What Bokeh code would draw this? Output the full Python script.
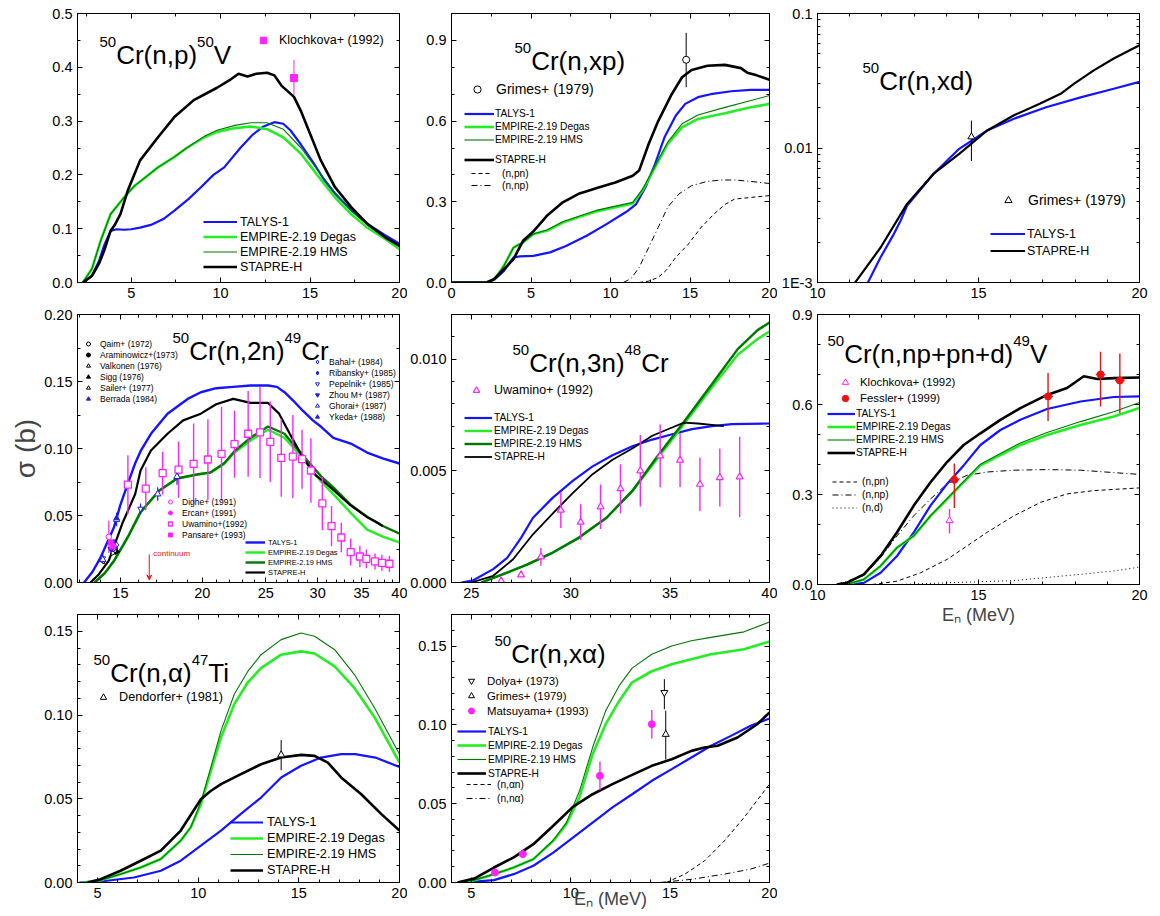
import math
from bokeh.plotting import figure
from bokeh.layouts import row, column
from bokeh.models import (Range1d, FixedTicker, LinearAxis, LogAxis, Legend, LegendItem,
                          PrintfTickFormatter, CustomJSTickFormatter, Arrow, VeeHead, Label,
                          CustomLabelingPolicy)
from bokeh.core.properties import value
from bokeh.embed import file_html
from bokeh.resources import INLINE

FONT = "Liberation Sans"
C_TALYS = "#1414ff"
C_DEGAS = "#22ee22"
C_HMS = "#007800"
C_STAPRE = "#000000"
C_MAG = "#ff22ff"
C_RED = "#ee1111"
C_EXPB = "#2020e0"

# ---------------- Panel 1: 50Cr(n,p)50V ----------------
p1_talys_e = [2.3, 2.8, 3.2, 3.5, 3.85, 4.2, 4.6, 5.0, 5.5, 6.1, 6.8, 7.4, 8.2, 8.9, 9.6, 10.2, 11.1, 11.8, 12.4, 13.0, 13.5, 13.9, 14.5, 15.2, 15.8, 16.4, 17.3, 18.2, 19.2, 20.0]
p1_talys_s = [0.0, 0.012, 0.04, 0.07, 0.096, 0.099, 0.098, 0.099, 0.102, 0.107, 0.118, 0.133, 0.155, 0.177, 0.2, 0.214, 0.25, 0.275, 0.29, 0.298, 0.295, 0.283, 0.256, 0.222, 0.19, 0.165, 0.135, 0.109, 0.088, 0.072]
p1_stapre_e = [2.3, 2.8, 3.2, 3.5, 3.85, 4.1, 4.4, 4.8, 5.5, 6.5, 7.4, 8.5, 9.8, 10.5, 11.0, 11.5, 12.0, 12.6, 13.0, 13.4, 14.1, 14.5, 14.9, 15.6, 16.4, 17.3, 18.2, 19.2, 20.0]
p1_stapre_s = [0.0, 0.012, 0.035, 0.06, 0.096, 0.108, 0.127, 0.17, 0.227, 0.27, 0.307, 0.339, 0.362, 0.376, 0.388, 0.383, 0.388, 0.39, 0.385, 0.366, 0.345, 0.318, 0.285, 0.227, 0.177, 0.14, 0.109, 0.084, 0.068]
p1_emp_e = [2.3, 2.8, 3.3, 3.85, 4.6, 5.2, 5.7, 6.5, 7.4, 8.1, 9.1, 9.8, 10.8, 11.7, 12.6, 13.5, 14.5, 15.4, 16.4, 17.3, 18.2, 19.2, 20.0]
p1_degas_s = [0.0, 0.025, 0.078, 0.127, 0.158, 0.18, 0.193, 0.214, 0.233, 0.25, 0.27, 0.28, 0.287, 0.29, 0.285, 0.27, 0.239, 0.2, 0.158, 0.127, 0.102, 0.081, 0.062]
p1_hms_s = [0.0, 0.025, 0.078, 0.127, 0.158, 0.18, 0.193, 0.214, 0.233, 0.25, 0.272, 0.283, 0.292, 0.297, 0.297, 0.285, 0.25, 0.21, 0.167, 0.133, 0.107, 0.085, 0.067]
p1_kloch_e = [14.1]
p1_kloch_s = [0.38]
p1_kloch_lo = [0.348]
p1_kloch_hi = [0.414]

# ---------------- Panel 2: 50Cr(n,xp) ----------------
p2_stapre_e = [0, 2.2, 2.67, 3.3, 3.9, 4.5, 5.15, 6.0, 7.0, 8.05, 9.3, 10.3, 11.4, 11.8, 12.4, 13.0, 13.85, 14.5, 15.1, 16.1, 17.2, 18.2, 18.6, 19.2, 20]
p2_stapre_s = [0, 0, 0.012, 0.05, 0.087, 0.155, 0.19, 0.248, 0.298, 0.331, 0.354, 0.372, 0.397, 0.416, 0.515, 0.60, 0.70, 0.763, 0.79, 0.806, 0.809, 0.797, 0.78, 0.77, 0.754]
p2_talys_e = [0, 2.2, 2.7, 3.3, 3.9, 4.3, 5.15, 6.2, 7.2, 8.5, 9.7, 11.0, 11.6, 12.2, 12.8, 13.4, 14.1, 14.7, 15.5, 16.3, 17.6, 18.8, 20]
p2_talys_s = [0, 0, 0.01, 0.043, 0.093, 0.097, 0.099, 0.112, 0.136, 0.174, 0.215, 0.263, 0.29, 0.354, 0.44, 0.54, 0.62, 0.664, 0.689, 0.70, 0.711, 0.716, 0.716]
p2_emp_e = [0, 2.2, 2.7, 3.3, 3.9, 4.5, 5.15, 6.0, 7.0, 8.05, 9.1, 10.1, 11.4, 12.0, 12.8, 13.6, 14.5, 15.5, 17.2, 18.6, 20]
p2_degas_s = [0, 0, 0.012, 0.062, 0.13, 0.149, 0.18, 0.192, 0.223, 0.244, 0.264, 0.277, 0.294, 0.341, 0.428, 0.515, 0.577, 0.608, 0.629, 0.649, 0.664]
p2_hms_s = [0, 0, 0.012, 0.062, 0.13, 0.149, 0.18, 0.195, 0.226, 0.247, 0.268, 0.281, 0.298, 0.345, 0.433, 0.522, 0.59, 0.623, 0.651, 0.673, 0.695]
p2_npn_e = [11.8, 12.4, 13.0, 13.5, 14.1, 14.9, 15.7, 16.5, 17.2, 17.8, 18.8, 20]
p2_npn_s = [0, 0.005, 0.019, 0.045, 0.093, 0.143, 0.205, 0.254, 0.29, 0.31, 0.316, 0.323]
p2_nnp_e = [10.8, 11.3, 11.8, 12.4, 13.0, 13.6, 14.3, 15.1, 16.1, 17.0, 17.8, 18.8, 20]
p2_nnp_s = [0, 0.015, 0.056, 0.13, 0.205, 0.28, 0.329, 0.36, 0.376, 0.381, 0.381, 0.376, 0.368]
p2_grimes_e = [14.76]
p2_grimes_s = [0.828]
p2_grimes_lo = [0.726]
p2_grimes_hi = [0.928]

# ---------------- Panel 3: 50Cr(n,xd) ----------------
p3_stapre_e = [11.0, 11.96, 12.78, 13.6, 14.4, 15.27, 16.1, 16.9, 17.55, 17.96, 18.58, 19.2, 20]
p3_stapre_s = [0.00088, 0.00182, 0.00384, 0.00641, 0.00905, 0.0135, 0.0175, 0.0213, 0.0253, 0.030, 0.0378, 0.0463, 0.058]
p3_talys_e = [11.5, 11.96, 12.37, 12.58, 12.78, 13.6, 14.4, 15.27, 16.1, 17.1, 18.2, 19.2, 20]
p3_talys_s = [0.00093, 0.00154, 0.00229, 0.00288, 0.00372, 0.0064, 0.00986, 0.0135, 0.0165, 0.0201, 0.0239, 0.0276, 0.031]
p3_grimes_e = [14.78]
p3_grimes_s = [0.0121]
p3_grimes_lo = [0.008]
p3_grimes_hi = [0.016]

# ---------------- Panel 4: 50Cr(n,2n)49Cr ----------------
p4_talys_e = [13.2, 13.6, 14.0, 14.66, 15.0, 15.4, 15.8, 16.1, 16.7, 17.7, 19.0, 19.9, 21.0, 22.3, 23.7, 25.2, 26.0, 26.7, 27.5, 28.5, 29.5, 30.4, 31.7, 33.7, 35.7, 37.8, 40]
p4_talys_s = [0.0, 0.008, 0.019, 0.041, 0.058, 0.074, 0.089, 0.098, 0.111, 0.126, 0.137, 0.142, 0.145, 0.146, 0.147, 0.147, 0.146, 0.142, 0.136, 0.128, 0.121, 0.116, 0.108, 0.1037, 0.097, 0.0925, 0.0888]
p4_stapre_e = [13.5, 13.9, 14.4, 15.1, 15.8, 16.1, 16.7, 17.7, 18.7, 19.9, 21.0, 22.3, 23.7, 25.2, 26.2, 27.2, 28.5, 29.8, 30.7, 31.7, 33.7, 35.7, 37.2, 37.7]
p4_stapre_s = [0.0, 0.006, 0.0164, 0.044, 0.066, 0.0836, 0.0985, 0.111, 0.121, 0.126, 0.133, 0.137, 0.134, 0.134, 0.126, 0.111, 0.093, 0.080, 0.075, 0.069, 0.0575, 0.0488, 0.044, 0.042]
p4_emp_e = [13.7, 14.2, 14.66, 15.4, 16.1, 17.2, 18.3, 19.7, 20.6, 21.6, 22.4, 23.7, 25.2, 26.7, 28.5, 30.4, 31.7, 33.7, 35.7, 37.8, 40]
p4_degas_s = [0.0, 0.007, 0.016, 0.034, 0.0525, 0.0687, 0.0776, 0.0805, 0.082, 0.0885, 0.097, 0.106, 0.114, 0.108, 0.0925, 0.075, 0.066, 0.052, 0.0394, 0.034, 0.030]
p4_hms_s = [0.0, 0.007, 0.016, 0.034, 0.0525, 0.0687, 0.0776, 0.0808, 0.0822, 0.089, 0.098, 0.108, 0.1164, 0.111, 0.0945, 0.079, 0.071, 0.058, 0.049, 0.042, 0.0365]
uwa2_e = [15.4, 16.4, 17.4, 18.4, 19.4, 20.4, 21.4, 22.4, 23.5, 24.5, 25.4, 26.4, 27.5, 28.4, 29.3, 30.5, 31.5, 32.6, 33.7, 34.8, 35.6, 36.7, 37.6, 38.6]
uwa2_s = [0.073, 0.070, 0.0816, 0.0843, 0.0886, 0.0918, 0.096, 0.1032, 0.111, 0.112, 0.105, 0.093, 0.094, 0.092, 0.0836, 0.059, 0.042, 0.0336, 0.0226, 0.0194, 0.0177, 0.0157, 0.0147, 0.014]
uwa2_err = [0.022, 0.016, 0.016, 0.021, 0.03, 0.03, 0.035, 0.025, 0.032, 0.034, 0.03, 0.029, 0.031, 0.022, 0.024, 0.02, 0.015, 0.011, 0.01, 0.008, 0.007, 0.006, 0.006, 0.006]
qaim_e, qaim_s = [14.7], [0.026]
aram_e, aram_s = [14.7], [0.024]
valk_e, valk_s = [14.6], [0.022]
sigg_e, sigg_s = [14.8], [0.023]
sail_e, sail_s = [14.1, 14.7], [0.016, 0.024]
berr_e, berr_s = [14.6], [0.030]
bahal_e, bahal_s = [14.8], [0.028]
riban_e, riban_s = [14.6], [0.026]
pepel_e, pepel_s = [14.1, 14.7, 16.1], [0.018, 0.026, 0.055]
pepel_err = [0.003, 0.004, 0.004]
zhou_e, zhou_s = [14.5], [0.025]
ghorai_e, ghorai_s = [14.1, 14.8, 17.1, 18.3], [0.017, 0.047, 0.066, 0.079]
ghorai_err = [0.003, 0.005, 0.005, 0.006]
ykeda_e, ykeda_s = [14.8], [0.048]
dighe_e, dighe_s = [14.4], [0.034]
dighe_err = [0.012]
ercan_e, ercan_s = [14.5], [0.030]
pans_e, pans_s = [14.6], [0.027]
pans_err = [0.005]
continuum_e = 16.6

# ---------------- Panel 5: 50Cr(n,3n)48Cr ----------------
p5_talys_e = [24.5, 25.1, 26.1, 26.8, 27.5, 28.1, 29.1, 30.1, 31.1, 32.1, 33.1, 34.1, 35.1, 36.1, 37.1, 38.1, 40]
p5_talys_s = [0, 0.0001, 0.0006, 0.0011, 0.002, 0.0029, 0.0038, 0.00455, 0.0052, 0.0057, 0.0061, 0.0064, 0.00664, 0.00687, 0.0070, 0.00709, 0.00712]
p5_stapre_e = [25.0, 26.1, 27.1, 28.1, 29.1, 30.1, 31.1, 32.1, 33.1, 34.1, 35.1, 35.7, 36.4, 37.1, 37.7]
p5_stapre_s = [0, 0.0003, 0.00104, 0.00216, 0.0031, 0.004, 0.00485, 0.0055, 0.006, 0.00657, 0.00694, 0.00716, 0.00712, 0.00706, 0.0070]
p5_emp_e = [25.5, 26.6, 27.8, 29.1, 30.4, 31.8, 33.1, 34.4, 35.7, 37.1, 38.4, 39.4, 40]
p5_degas_s = [0, 0.00037, 0.0008, 0.00134, 0.002, 0.0029, 0.0041, 0.0056, 0.0071, 0.00873, 0.0102, 0.0109, 0.01124]
p5_hms_s = [0, 0.00037, 0.0008, 0.00134, 0.002, 0.0029, 0.0041, 0.0057, 0.0072, 0.00888, 0.01045, 0.0113, 0.01164]
uwa3_e = [26.5, 27.5, 28.5, 29.5, 30.5, 31.5, 32.5, 33.5, 34.5, 35.5, 36.5, 37.5, 38.5]
uwa3_s = [0.00007, 0.00034, 0.00115, 0.00324, 0.0027, 0.00339, 0.0042, 0.005, 0.00567, 0.00548, 0.0044, 0.0047, 0.00473]
uwa3_err = [0, 0, 0.0004, 0.0008, 0.0008, 0.001, 0.0011, 0.0016, 0.0014, 0.0012, 0.0012, 0.0013, 0.0018]

# ---------------- Panel 6: 50Cr(n,np+pn+d)49V ----------------
p6_stapre_e = [10.6, 10.92, 11.44, 11.96, 12.47, 12.99, 13.51, 14.03, 14.54, 15.06, 15.68, 16.3, 17.13, 17.75, 18.27, 18.69, 19.2, 20]
p6_stapre_s = [0, 0.006, 0.034, 0.095, 0.174, 0.263, 0.341, 0.409, 0.465, 0.504, 0.549, 0.588, 0.632, 0.655, 0.694, 0.685, 0.688, 0.69]
p6_talys_e = [11.0, 11.44, 11.96, 12.47, 12.99, 13.51, 14.03, 14.54, 15.06, 15.68, 16.3, 17.13, 18.17, 19.2, 20]
p6_talys_s = [0, 0.0056, 0.039, 0.095, 0.174, 0.263, 0.336, 0.397, 0.465, 0.515, 0.549, 0.585, 0.61, 0.625, 0.627]
p6_emp_e = [10.9, 11.44, 11.96, 12.47, 12.99, 13.51, 14.03, 14.54, 15.06, 15.68, 16.3, 17.13, 18.17, 19.2, 20]
p6_degas_s = [0, 0.017, 0.062, 0.123, 0.162, 0.229, 0.285, 0.341, 0.397, 0.431, 0.465, 0.498, 0.532, 0.56, 0.588]
p6_hms_s = [0, 0.017, 0.062, 0.123, 0.162, 0.229, 0.287, 0.344, 0.401, 0.437, 0.472, 0.507, 0.543, 0.576, 0.607]
p6_nnp_e = [10.6, 11.44, 11.96, 12.47, 12.99, 13.51, 14.03, 14.65, 15.27, 16.1, 17.13, 18.17, 19.2, 20]
p6_nnp_s = [0, 0.03, 0.09, 0.162, 0.229, 0.285, 0.336, 0.364, 0.375, 0.381, 0.383, 0.381, 0.373, 0.367]
p6_npn_e = [11.7, 12.47, 13.2, 14.03, 14.65, 15.27, 16.1, 16.93, 17.75, 18.58, 20]
p6_npn_s = [0, 0.011, 0.039, 0.084, 0.129, 0.174, 0.229, 0.274, 0.302, 0.313, 0.322]
p6_nd_e = [12.5, 14.03, 16.1, 18.17, 19.2, 20]
p6_nd_s = [0, 0.0056, 0.013, 0.034, 0.045, 0.058]
p6_kloch_e, p6_kloch_s, p6_kloch_lo, p6_kloch_hi = [14.1], [0.213], [0.17], [0.252]
fess_e = [14.25, 17.16, 18.79, 19.39]
fess_s = [0.349, 0.627, 0.70, 0.68]
fess_lo = [0.255, 0.545, 0.593, 0.571]
fess_hi = [0.403, 0.705, 0.776, 0.77]
fess_de = [0.15, 0.15, 0.15, 0.15]

# ---------------- Panel 7: 50Cr(n,a)47Ti ----------------
p7_talys_e = [4.1, 5.15, 6.8, 8.14, 9.13, 10.13, 11.13, 12.12, 13.12, 14.12, 15.11, 16.1, 17.1, 17.8, 18.8, 20]
p7_talys_s = [0, 0.0006, 0.003, 0.007, 0.013, 0.022, 0.031, 0.041, 0.0507, 0.0627, 0.0697, 0.0746, 0.0766, 0.0766, 0.0746, 0.069]
p7_stapre_e = [4.5, 5.15, 6.14, 7.14, 8.14, 9.13, 10.13, 10.6, 11.13, 12.12, 13.12, 14.12, 15.11, 15.78, 16.44, 17.1, 18.1, 19.1, 20]
p7_stapre_s = [0, 0.002, 0.007, 0.013, 0.019, 0.031, 0.0497, 0.0545, 0.0587, 0.0647, 0.0706, 0.0746, 0.0762, 0.0756, 0.0716, 0.0627, 0.0527, 0.0408, 0.031]
p7_emp_e = [4.3, 5.15, 6.14, 7.14, 8.14, 9.13, 9.63, 10.13, 10.63, 11.13, 11.79, 12.46, 13.12, 14.12, 15.11, 15.78, 16.78, 17.77, 18.77, 20]
p7_degas_s = [0, 0.0014, 0.005, 0.009, 0.014, 0.025, 0.033, 0.0468, 0.0667, 0.0866, 0.1065, 0.1194, 0.128, 0.136, 0.138, 0.1367, 0.129, 0.116, 0.0985, 0.0716]
p7_hms_s = [0, 0.0014, 0.005, 0.009, 0.014, 0.025, 0.033, 0.048, 0.069, 0.0905, 0.1124, 0.126, 0.136, 0.145, 0.149, 0.147, 0.139, 0.124, 0.104, 0.0766]
dend_e, dend_s, dend_lo, dend_hi = [14.12], [0.0762], [0.067], [0.085]

# ---------------- Panel 8: 50Cr(n,xa) ----------------
p8_talys_e = [4.3, 5.14, 6.14, 7.13, 8.12, 9.12, 10.11, 11.1, 12.1, 13.09, 14.08, 15.08, 16.07, 17.06, 18.06, 19.05, 20]
p8_talys_s = [0, 0.0005, 0.0015, 0.0053, 0.0106, 0.019, 0.0285, 0.038, 0.0476, 0.056, 0.0645, 0.0719, 0.0793, 0.0867, 0.093, 0.0994, 0.104]
p8_stapre_e = [4.3, 5.14, 6.14, 7.13, 8.12, 9.12, 10.11, 11.1, 12.1, 13.09, 14.08, 15.08, 16.07, 16.73, 17.39, 18.39, 19.38, 20]
p8_stapre_s = [0, 0.0025, 0.0095, 0.0159, 0.0243, 0.036, 0.048, 0.056, 0.0624, 0.0683, 0.074, 0.0782, 0.0835, 0.0856, 0.0867, 0.092, 0.1004, 0.1078]
p8_emp_e = [4.3, 5.14, 6.14, 7.13, 8.12, 9.12, 9.78, 10.44, 11.1, 11.76, 12.43, 13.09, 14.08, 15.08, 16.07, 17.06, 18.72, 20]
p8_degas_s = [0, 0.0015, 0.0053, 0.0095, 0.0148, 0.0264, 0.037, 0.054, 0.0814, 0.1004, 0.115, 0.127, 0.134, 0.1385, 0.1416, 0.1448, 0.148, 0.1529]
p8_hms_s = [0, 0.0015, 0.0053, 0.0095, 0.0148, 0.0268, 0.038, 0.058, 0.0856, 0.109, 0.1247, 0.136, 0.1448, 0.150, 0.1533, 0.1555, 0.159, 0.1653]
p8_nan_e = [14.8, 15.74, 16.73, 17.73, 18.72, 20]
p8_nan_s = [0, 0.0053, 0.0137, 0.0264, 0.0412, 0.0624]
p8_nna_e = [14.5, 16.07, 17.73, 19.05, 20]
p8_nna_s = [0, 0.002, 0.0053, 0.0085, 0.0123]
mats_e = [6.19, 7.59, 11.47, 14.08]
mats_s = [0.0063, 0.018, 0.0677, 0.1004]
mats_err = [0.001, 0.0015, 0.009, 0.009]
dolya_e, dolya_s, dolya_lo, dolya_hi = [14.71], [0.1205], [0.11], [0.129]
grim8_e, grim8_s, grim8_lo, grim8_hi = [14.78], [0.094], [0.078], [0.109]

# ---------------- helpers ----------------
AW = {'0': .556, '1': .556, '2': .556, '3': .556, '4': .556, '5': .556, '6': .556, '7': .556, '8': .556, '9': .556,
      '(': .333, ')': .333, ',': .278, 'C': .722, 'r': .333, 'n': .556, 'p': .556, 'x': .5, 'd': .556,
      'V': .667, '+': .584, 'T': .611, 'i': .222, 'α': .578}


def tw(s, size):
    return sum(AW.get(c, 0.556) for c in s) * size


NO_LABELS = "for (const i of indices) { indices.unset(i) }\nreturn indices"


def style_axis(ax, ticker, fmt, labels):
    ax.ticker = ticker
    ax.major_tick_in = 5
    ax.major_tick_out = 0
    ax.minor_tick_in = 3
    ax.minor_tick_out = 0
    ax.axis_line_color = "black"
    ax.major_tick_line_color = "black"
    ax.minor_tick_line_color = "black"
    if labels:
        ax.formatter = fmt
        ax.major_label_text_font = FONT
        ax.major_label_text_font_size = "14.5px"
        ax.major_label_text_color = "black"
        ax.major_label_standoff = 5
    else:
        ax.major_label_policy = CustomLabelingPolicy(code=NO_LABELS)
        ax.major_label_text_font_size = "1px"
        ax.major_label_standoff = 0


def make_panel(xr, yr, w, h, bl, br, bt, bb, xt, xm, yt, ym, xfmt, yfmt, x_log=False, y_log=False):
    p = figure(width=w, height=h, x_range=Range1d(*xr), y_range=Range1d(*yr),
               x_axis_type="log" if x_log else "linear", y_axis_type="log" if y_log else "linear",
               output_backend="svg", toolbar_location=None,
               min_border_left=bl, min_border_right=br, min_border_top=bt, min_border_bottom=bb)
    p.xgrid.visible = False
    p.ygrid.visible = False
    p.outline_line_color = "black"
    p.outline_line_width = 1
    p.outline_line_alpha = 1
    p.background_fill_color = "white"
    p.border_fill_color = "white"
    bx = p.below[0]
    ly = p.left[0]
    top = LogAxis() if x_log else LinearAxis()
    right = LogAxis() if y_log else LinearAxis()
    p.add_layout(top, "above")
    p.add_layout(right, "right")
    style_axis(bx, FixedTicker(ticks=xt, minor_ticks=xm), xfmt, True)
    style_axis(ly, FixedTicker(ticks=yt, minor_ticks=ym), yfmt, True)
    style_axis(top, FixedTicker(ticks=xt, minor_ticks=xm), None, False)
    style_axis(right, FixedTicker(ticks=yt, minor_ticks=ym), None, False)
    return p


def add_title(p, parts, dx, dy):
    x0 = p.x_range.start
    y0 = p.y_range.end
    cx = dx
    for txt, sup in parts:
        size = 15 if sup else 26
        p.text(x=[x0], y=[y0], text=[txt], x_offset=cx, y_offset=dy - (13 if sup else 0),
               text_font=value(FONT), text_font_size=f"{size}px", text_baseline="alphabetic",
               text_align="left", text_color="black")
        cx += tw(txt, size)


def add_legend(p, entries, loc, size, gw, gh, standoff):
    items = [LegendItem(label=lab, renderers=[r]) for lab, r in entries]
    lg = Legend(items=items, location=loc, orientation="vertical",
                label_text_font=FONT, label_text_font_size=f"{size}px", label_text_color="black",
                glyph_width=gw, glyph_height=gh, label_height=gh, spacing=0, padding=0, margin=0,
                label_standoff=standoff, background_fill_alpha=0, border_line_alpha=0)
    p.add_layout(lg)


def rng(a, b, s):
    out = []
    v = a
    while v <= b + 1e-9:
        out.append(round(v, 6))
        v += s
    return out


def errbar(p, e, lo, hi, color, w=1):
    p.segment(x0=e, y0=lo, x1=e, y1=hi, line_color=color, line_width=w)


def sym(vals, errs, sign):
    return [v + sign * d for v, d in zip(vals, errs)]


F1 = PrintfTickFormatter(format="%d")

# ======== Panel 1 ========
p1 = make_panel((2, 20), (0, 0.5), 407, 306, 77, 8, 13, 24,
                [5, 10, 15, 20], [2.5, 7.5, 12.5, 17.5], rng(0, 0.5, 0.1), rng(0.05, 0.45, 0.1),
                F1, PrintfTickFormatter(format="%.1f"))
r1t = p1.line(p1_talys_e, p1_talys_s, line_color=C_TALYS, line_width=2.2)
r1d = p1.line(p1_emp_e, p1_degas_s, line_color=C_DEGAS, line_width=2.6)
r1h = p1.line(p1_emp_e, p1_hms_s, line_color=C_HMS, line_width=1.1)
r1s = p1.line(p1_stapre_e, p1_stapre_s, line_color=C_STAPRE, line_width=2.6)
errbar(p1, p1_kloch_e, p1_kloch_lo, p1_kloch_hi, C_MAG)
r1k = p1.scatter(p1_kloch_e, p1_kloch_s, marker="square", size=7, fill_color=C_MAG, line_color=C_MAG)
add_title(p1, [("50", 1), ("Cr(n,p)", 0), ("50", 1), ("V", 0)], 22, 41)
add_legend(p1, [("Klochkova+ (1992)", r1k)], (175, 234), 12.5, 22, 16, 5)
add_legend(p1, [("TALYS-1", r1t), ("EMPIRE-2.19 Degas", r1d), ("EMPIRE-2.19 HMS", r1h), ("STAPRE-H", r1s)],
           (126, 8), 12.5, 34, 15, 3)

# ======== Panel 2 ========
p2 = make_panel((0, 20), (0, 1.0), 370, 306, 40, 8, 13, 24,
                [0, 5, 10, 15, 20], [2.5, 7.5, 12.5, 17.5], [0, 0.3, 0.6, 0.9], [0.1, 0.2, 0.4, 0.5, 0.7, 0.8, 1.0],
                F1, PrintfTickFormatter(format="%.1f"))
r2pn = p2.line(p2_npn_e, p2_npn_s, line_color="black", line_width=1, line_dash="4 3")
r2np = p2.line(p2_nnp_e, p2_nnp_s, line_color="black", line_width=1, line_dash="6 3 1 3")
r2t = p2.line(p2_talys_e, p2_talys_s, line_color=C_TALYS, line_width=2.2)
r2d = p2.line(p2_emp_e, p2_degas_s, line_color=C_DEGAS, line_width=2.6)
r2h = p2.line(p2_emp_e, p2_hms_s, line_color=C_HMS, line_width=1.1)
r2s = p2.line(p2_stapre_e, p2_stapre_s, line_color=C_STAPRE, line_width=2.6)
errbar(p2, p2_grimes_e, p2_grimes_lo, p2_grimes_hi, "black")
r2g = p2.scatter(p2_grimes_e, p2_grimes_s, marker="circle", size=7, fill_color="white", line_color="black")
add_title(p2, [("50", 1), ("Cr(n,xp)", 0)], 63, 47)
add_legend(p2, [("Grimes+ (1979)", r2g)], (16, 184), 14, 20, 18, 9)
add_legend(p2, [("TALYS-1", r2t), ("EMPIRE-2.19 Degas", r2d), ("EMPIRE-2.19 HMS", r2h)], (13, 136), 10.2, 30, 13, 1)
add_legend(p2, [("STAPRE-H", r2s)], (13, 116), 10.2, 30, 13, 1)
add_legend(p2, [("(n,pn)", r2pn), ("(n,np)", r2np)], (20, 91), 10.2, 21, 12, 10)

# ======== Panel 3 ========
p3 = make_panel((10, 20), (0.001, 0.1), 380, 306, 40, 18, 13, 24,
                [10, 15, 20], [11, 12, 13, 14, 16, 17, 18, 19], [0.001, 0.01, 0.1],
                [k * 0.001 for k in range(2, 10)] + [k * 0.01 for k in range(2, 10)],
                F1, CustomJSTickFormatter(code="return tick < 0.002 ? '1E-3' : String(tick);"), y_log=True)
r3t = p3.line(p3_talys_e, p3_talys_s, line_color=C_TALYS, line_width=2.2)
r3s = p3.line(p3_stapre_e, p3_stapre_s, line_color=C_STAPRE, line_width=2.2)
errbar(p3, p3_grimes_e, p3_grimes_lo, p3_grimes_hi, "black")
r3g = p3.scatter(p3_grimes_e, p3_grimes_s, marker="triangle", size=7, fill_color="white", line_color="black")
add_title(p3, [("50", 1), ("Cr(n,xd)", 0)], 45, 67)
add_legend(p3, [("Grimes+ (1979)", r3g)], (181, 73), 14, 20, 18, 10)
add_legend(p3, [("TALYS-1", r3t), ("STAPRE-H", r3s)], (173, 23), 12.5, 35, 17, 2)

# ======== Panel 4 ========
p4 = make_panel((12.9, 40), (0, 0.20), 407, 300, 77, 8, 8, 24,
                [15, 20, 25, 30, 35, 40], [13, 14] + list(range(16, 20)) + list(range(21, 25)) + list(range(26, 30)) + list(range(31, 35)) + list(range(36, 40)),
                [0, 0.05, 0.10, 0.15, 0.20], [0.025, 0.075, 0.125, 0.175],
                F1, PrintfTickFormatter(format="%.2f"), x_log=True)
p4.left[0].axis_label = "σ (b)"
p4.left[0].axis_label_text_font = FONT
p4.left[0].axis_label_text_font_size = "28px"
p4.left[0].axis_label_text_font_style = "normal"
p4.left[0].axis_label_standoff = 0
r4t = p4.line(p4_talys_e, p4_talys_s, line_color=C_TALYS, line_width=2.4)
r4d = p4.line(p4_emp_e, p4_degas_s, line_color=C_DEGAS, line_width=2.4)
r4h = p4.line(p4_emp_e, p4_hms_s, line_color=C_HMS, line_width=2.4)
r4s = p4.line(p4_stapre_e, p4_stapre_s, line_color=C_STAPRE, line_width=2.2)
errbar(p4, uwa2_e, sym(uwa2_s, uwa2_err, -1), sym(uwa2_s, uwa2_err, 1), C_MAG, 1.4)
errbar(p4, dighe_e, sym(dighe_s, dighe_err, -1), sym(dighe_s, dighe_err, 1), C_MAG, 1.2)
errbar(p4, pans_e, sym(pans_s, pans_err, -1), sym(pans_s, pans_err, 1), C_MAG, 1.2)
errbar(p4, ghorai_e, sym(ghorai_s, ghorai_err, -1), sym(ghorai_s, ghorai_err, 1), C_EXPB, 1.2)
errbar(p4, pepel_e, sym(pepel_s, pepel_err, -1), sym(pepel_s, pepel_err, 1), C_EXPB, 1.2)
r4u = p4.scatter(uwa2_e, uwa2_s, marker="square", size=7, fill_color="white", line_color=C_MAG, line_width=1.3)
MS = 5.5
r4q = p4.scatter(qaim_e, qaim_s, marker="circle", size=MS, fill_color="white", line_color="black")
r4a = p4.scatter(aram_e, aram_s, marker="circle", size=MS, fill_color="black", line_color="black")
r4v = p4.scatter(valk_e, valk_s, marker="triangle", angle=-math.pi / 2, size=MS, fill_color="white", line_color="black")
r4g1 = p4.scatter(sigg_e, sigg_s, marker="triangle", angle=-math.pi / 2, size=MS, fill_color="black", line_color="black")
r4sa = p4.scatter(sail_e, sail_s, marker="triangle", angle=math.pi / 2, size=MS, fill_color="white", line_color="black")
r4be = p4.scatter(berr_e, berr_s, marker="triangle", angle=math.pi / 2, size=MS, fill_color=C_EXPB, line_color=C_EXPB)
r4ba = p4.scatter(bahal_e, bahal_s, marker="diamond", size=MS + 1, fill_color="white", line_color=C_EXPB)
r4ri = p4.scatter(riban_e, riban_s, marker="diamond", size=MS + 1, fill_color=C_EXPB, line_color=C_EXPB)
r4pe = p4.scatter(pepel_e, pepel_s, marker="inverted_triangle", size=MS, fill_color="white", line_color=C_EXPB)
r4zh = p4.scatter(zhou_e, zhou_s, marker="inverted_triangle", size=MS, fill_color=C_EXPB, line_color=C_EXPB)
r4gh = p4.scatter(ghorai_e, ghorai_s, marker="triangle", size=MS + 1, fill_color="white", line_color=C_EXPB)
r4yk = p4.scatter(ykeda_e, ykeda_s, marker="triangle", size=MS, fill_color=C_EXPB, line_color=C_EXPB)
r4di = p4.scatter(dighe_e, dighe_s, marker="circle", size=MS, fill_color="white", line_color=C_MAG)
r4er = p4.scatter(ercan_e, ercan_s, marker="circle", size=MS, fill_color=C_MAG, line_color=C_MAG)
r4pa = p4.scatter(pans_e, pans_s, marker="square", size=MS, fill_color=C_MAG, line_color=C_MAG)
p4.add_layout(Arrow(end=VeeHead(size=5, line_color=C_RED, fill_color=C_RED), x_start=continuum_e, y_start=0.021,
                    x_end=continuum_e, y_end=0.002, line_color=C_RED, line_width=1))
p4.add_layout(Label(x=continuum_e, y=0.0185, x_offset=4, text="continuum", text_font=FONT,
                    text_font_size="8px", text_color=C_RED))
add_title(p4, [("50", 1), ("Cr(n,2n)", 0), ("49", 1), ("Cr", 0)], 95, 36)
add_legend(p4, [("Qaim+ (1972)", r4q), ("Araminowicz+(1973)", r4a), ("Valkonen (1976)", r4v), ("Sigg (1976)", r4g1),
                ("Sailer+ (1977)", r4sa), ("Berrada (1984)", r4be)], (6, 178), 8.5, 10, 11, 7)
add_legend(p4, [("Bahal+ (1984)", r4ba), ("Ribansky+ (1985)", r4ri), ("Pepelnik+ (1985)", r4pe), ("Zhou M+ (1987)", r4zh),
                ("Ghorai+ (1987)", r4gh), ("Ykeda+ (1988)", r4yk)], (235, 160), 8.5, 10, 11, 7)
add_legend(p4, [("Dighe+ (1991)", r4di), ("Ercan+ (1991)", r4er), ("Uwamino+(1992)", r4u), ("Pansare+ (1993)", r4pa)],
           (88, 42), 8.5, 10, 11, 7)
add_legend(p4, [("TALYS-1", r4t), ("EMPIRE-2.19 Degas", r4d), ("EMPIRE-2.19 HMS", r4h), ("STAPRE-H", r4s)],
           (168, 5), 7.5, 20, 10, 3)

# ======== Panel 5 ========
p5 = make_panel((24, 40), (0, 0.012), 370, 300, 40, 8, 8, 24,
                [25, 30, 35, 40], [k for k in range(24, 41) if k % 5 != 0], [0, 0.005, 0.010],
                [0.001, 0.002, 0.003, 0.004, 0.006, 0.007, 0.008, 0.009, 0.011, 0.012],
                F1, PrintfTickFormatter(format="%.3f"))
r5t = p5.line(p5_talys_e, p5_talys_s, line_color=C_TALYS, line_width=2.2)
r5d = p5.line(p5_emp_e, p5_degas_s, line_color=C_DEGAS, line_width=2.4)
r5h = p5.line(p5_emp_e, p5_hms_s, line_color=C_HMS, line_width=2.4)
r5s = p5.line(p5_stapre_e, p5_stapre_s, line_color=C_STAPRE, line_width=1.8)
errbar(p5, uwa3_e, sym(uwa3_s, uwa3_err, -1), sym(uwa3_s, uwa3_err, 1), C_MAG, 1.4)
r5u = p5.scatter(uwa3_e, uwa3_s, marker="triangle", size=7, fill_color="white", line_color=C_MAG, line_width=1.2)
add_title(p5, [("50", 1), ("Cr(n,3n)", 0), ("48", 1), ("Cr", 0)], 61, 48)
add_legend(p5, [("Uwamino+ (1992)", r5u)], (15, 184), 12.5, 20, 16, 8)
add_legend(p5, [("TALYS-1", r5t), ("EMPIRE-2.19 Degas", r5d), ("EMPIRE-2.19 HMS", r5h), ("STAPRE-H", r5s)],
           (13, 119), 10.2, 28, 13, 2)

# ======== Panel 6 ========
p6 = make_panel((10, 20), (0, 0.9), 380, 326, 40, 18, 8, 48,
                [10, 15, 20], [11, 12, 13, 14, 16, 17, 18, 19], [0, 0.3, 0.6, 0.9], [0.1, 0.2, 0.4, 0.5, 0.7, 0.8],
                F1, PrintfTickFormatter(format="%.1f"))
p6.below[0].axis_label = "Eₙ (MeV)"
p6.below[0].axis_label_text_font = FONT
p6.below[0].axis_label_text_font_size = "18px"
p6.below[0].axis_label_text_font_style = "normal"
p6.below[0].axis_label_standoff = 2
r6pn = p6.line(p6_npn_e, p6_npn_s, line_color="black", line_width=1, line_dash="4 3")
r6np = p6.line(p6_nnp_e, p6_nnp_s, line_color="black", line_width=1, line_dash="6 3 1 3")
r6nd = p6.line(p6_nd_e, p6_nd_s, line_color="black", line_width=1, line_dash="1 3")
r6t = p6.line(p6_talys_e, p6_talys_s, line_color=C_TALYS, line_width=2.2)
r6d = p6.line(p6_emp_e, p6_degas_s, line_color=C_DEGAS, line_width=2.6)
r6h = p6.line(p6_emp_e, p6_hms_s, line_color=C_HMS, line_width=1.1)
r6s = p6.line(p6_stapre_e, p6_stapre_s, line_color=C_STAPRE, line_width=2.6)
errbar(p6, p6_kloch_e, p6_kloch_lo, p6_kloch_hi, C_MAG, 1.4)
r6k = p6.scatter(p6_kloch_e, p6_kloch_s, marker="triangle", size=7, fill_color="white", line_color=C_MAG)
errbar(p6, fess_e, fess_lo, fess_hi, C_RED, 1.4)
p6.segment(x0=sym(fess_e, fess_de, -1), y0=fess_s, x1=sym(fess_e, fess_de, 1), y1=fess_s, line_color=C_RED, line_width=1.4)
r6f = p6.scatter(fess_e, fess_s, marker="circle", size=7, fill_color=C_RED, line_color=C_RED)
add_title(p6, [("50", 1), ("Cr(n,np+pn+d)", 0), ("49", 1), ("V", 0)], 10, 39)
add_legend(p6, [("Klochkova+ (1992)", r6k), ("Fessler+ (1999)", r6f)], (20, 178), 11.4, 16, 16, 7)
add_legend(p6, [("TALYS-1", r6t), ("EMPIRE-2.19 Degas", r6d), ("EMPIRE-2.19 HMS", r6h), ("STAPRE-H", r6s)],
           (10, 125), 10.2, 28, 13, 1)
add_legend(p6, [("(n,pn)", r6pn), ("(n,np)", r6np), ("(n,d)", r6nd)], (15, 70), 10.2, 25, 13, 5)

# ======== Panel 7 ========
p7 = make_panel((4, 20), (0, 0.16), 407, 300, 77, 8, 8, 24,
                [5, 10, 15, 20], [k for k in range(4, 21) if k % 5 != 0], [0, 0.05, 0.10, 0.15],
                [round(k * 0.01, 2) for k in range(1, 17) if k % 5 != 0],
                F1, PrintfTickFormatter(format="%.2f"))
r7t = p7.line(p7_talys_e, p7_talys_s, line_color=C_TALYS, line_width=2.2)
r7d = p7.line(p7_emp_e, p7_degas_s, line_color=C_DEGAS, line_width=2.6)
r7h = p7.line(p7_emp_e, p7_hms_s, line_color=C_HMS, line_width=1.1)
r7s = p7.line(p7_stapre_e, p7_stapre_s, line_color=C_STAPRE, line_width=2.6)
errbar(p7, dend_e, dend_lo, dend_hi, "black")
r7g = p7.scatter(dend_e, dend_s, marker="triangle", size=7, fill_color="white", line_color="black")
add_title(p7, [("50", 1), ("Cr(n,α)", 0), ("47", 1), ("Ti", 0)], 16, 58)
add_legend(p7, [("Dendorfer+ (1981)", r7g)], (18, 177), 12.7, 16, 16, 8)
add_legend(p7, [("TALYS-1", r7t), ("EMPIRE-2.19 Degas", r7d), ("EMPIRE-2.19 HMS", r7h), ("STAPRE-H", r7s)],
           (153, 4), 12.7, 33, 16, 4)

# ======== Panel 8 ========
p8 = make_panel((4, 20), (0, 0.17), 370, 308, 40, 8, 8, 32,
                [5, 10, 15, 20], [k for k in range(4, 21) if k % 5 != 0], [0, 0.05, 0.10, 0.15],
                [round(k * 0.01, 2) for k in range(1, 18) if k % 5 != 0],
                F1, PrintfTickFormatter(format="%.2f"))
p8.below[0].axis_label = "Eₙ (MeV)"
p8.below[0].axis_label_text_font = FONT
p8.below[0].axis_label_text_font_size = "18px"
p8.below[0].axis_label_text_font_style = "normal"
p8.below[0].axis_label_standoff = -12
r8an = p8.line(p8_nan_e, p8_nan_s, line_color="black", line_width=1, line_dash="4 3")
r8na = p8.line(p8_nna_e, p8_nna_s, line_color="black", line_width=1, line_dash="6 3 1 3")
r8t = p8.line(p8_talys_e, p8_talys_s, line_color=C_TALYS, line_width=2.2)
r8d = p8.line(p8_emp_e, p8_degas_s, line_color=C_DEGAS, line_width=2.6)
r8h = p8.line(p8_emp_e, p8_hms_s, line_color=C_HMS, line_width=1.1)
r8s = p8.line(p8_stapre_e, p8_stapre_s, line_color=C_STAPRE, line_width=2.6)
errbar(p8, mats_e, sym(mats_s, mats_err, -1), sym(mats_s, mats_err, 1), C_MAG, 1.4)
r8m = p8.scatter(mats_e, mats_s, marker="circle", size=7, fill_color=C_MAG, line_color=C_MAG)
errbar(p8, dolya_e, dolya_lo, dolya_hi, "black")
r8do = p8.scatter(dolya_e, dolya_s, marker="inverted_triangle", size=7, fill_color="white", line_color="black")
errbar(p8, grim8_e, grim8_lo, grim8_hi, "black")
r8gr = p8.scatter(grim8_e, grim8_s, marker="triangle", size=7, fill_color="white", line_color="black")
add_title(p8, [("50", 1), ("Cr(n,xα)", 0)], 43, 39)
add_legend(p8, [("Dolya+ (1973)", r8do), ("Grimes+ (1979)", r8gr), ("Matsuyama+ (1993)", r8m)], (12, 164), 11.4, 16, 15, 8)
add_legend(p8, [("TALYS-1", r8t), ("EMPIRE-2.19 Degas", r8d), ("EMPIRE-2.19 HMS", r8h), ("STAPRE-H", r8s)],
           (6, 102), 10.2, 29, 14, 2)
add_legend(p8, [("(n,αn)", r8an), ("(n,nα)", r8na)], (15, 77), 10.2, 25, 14, 6)

layout = row(column(p1, p4, p7), column(p2, p5, p8), column(p3, p6))
open("out.html", "w").write(file_html(layout, INLINE))
